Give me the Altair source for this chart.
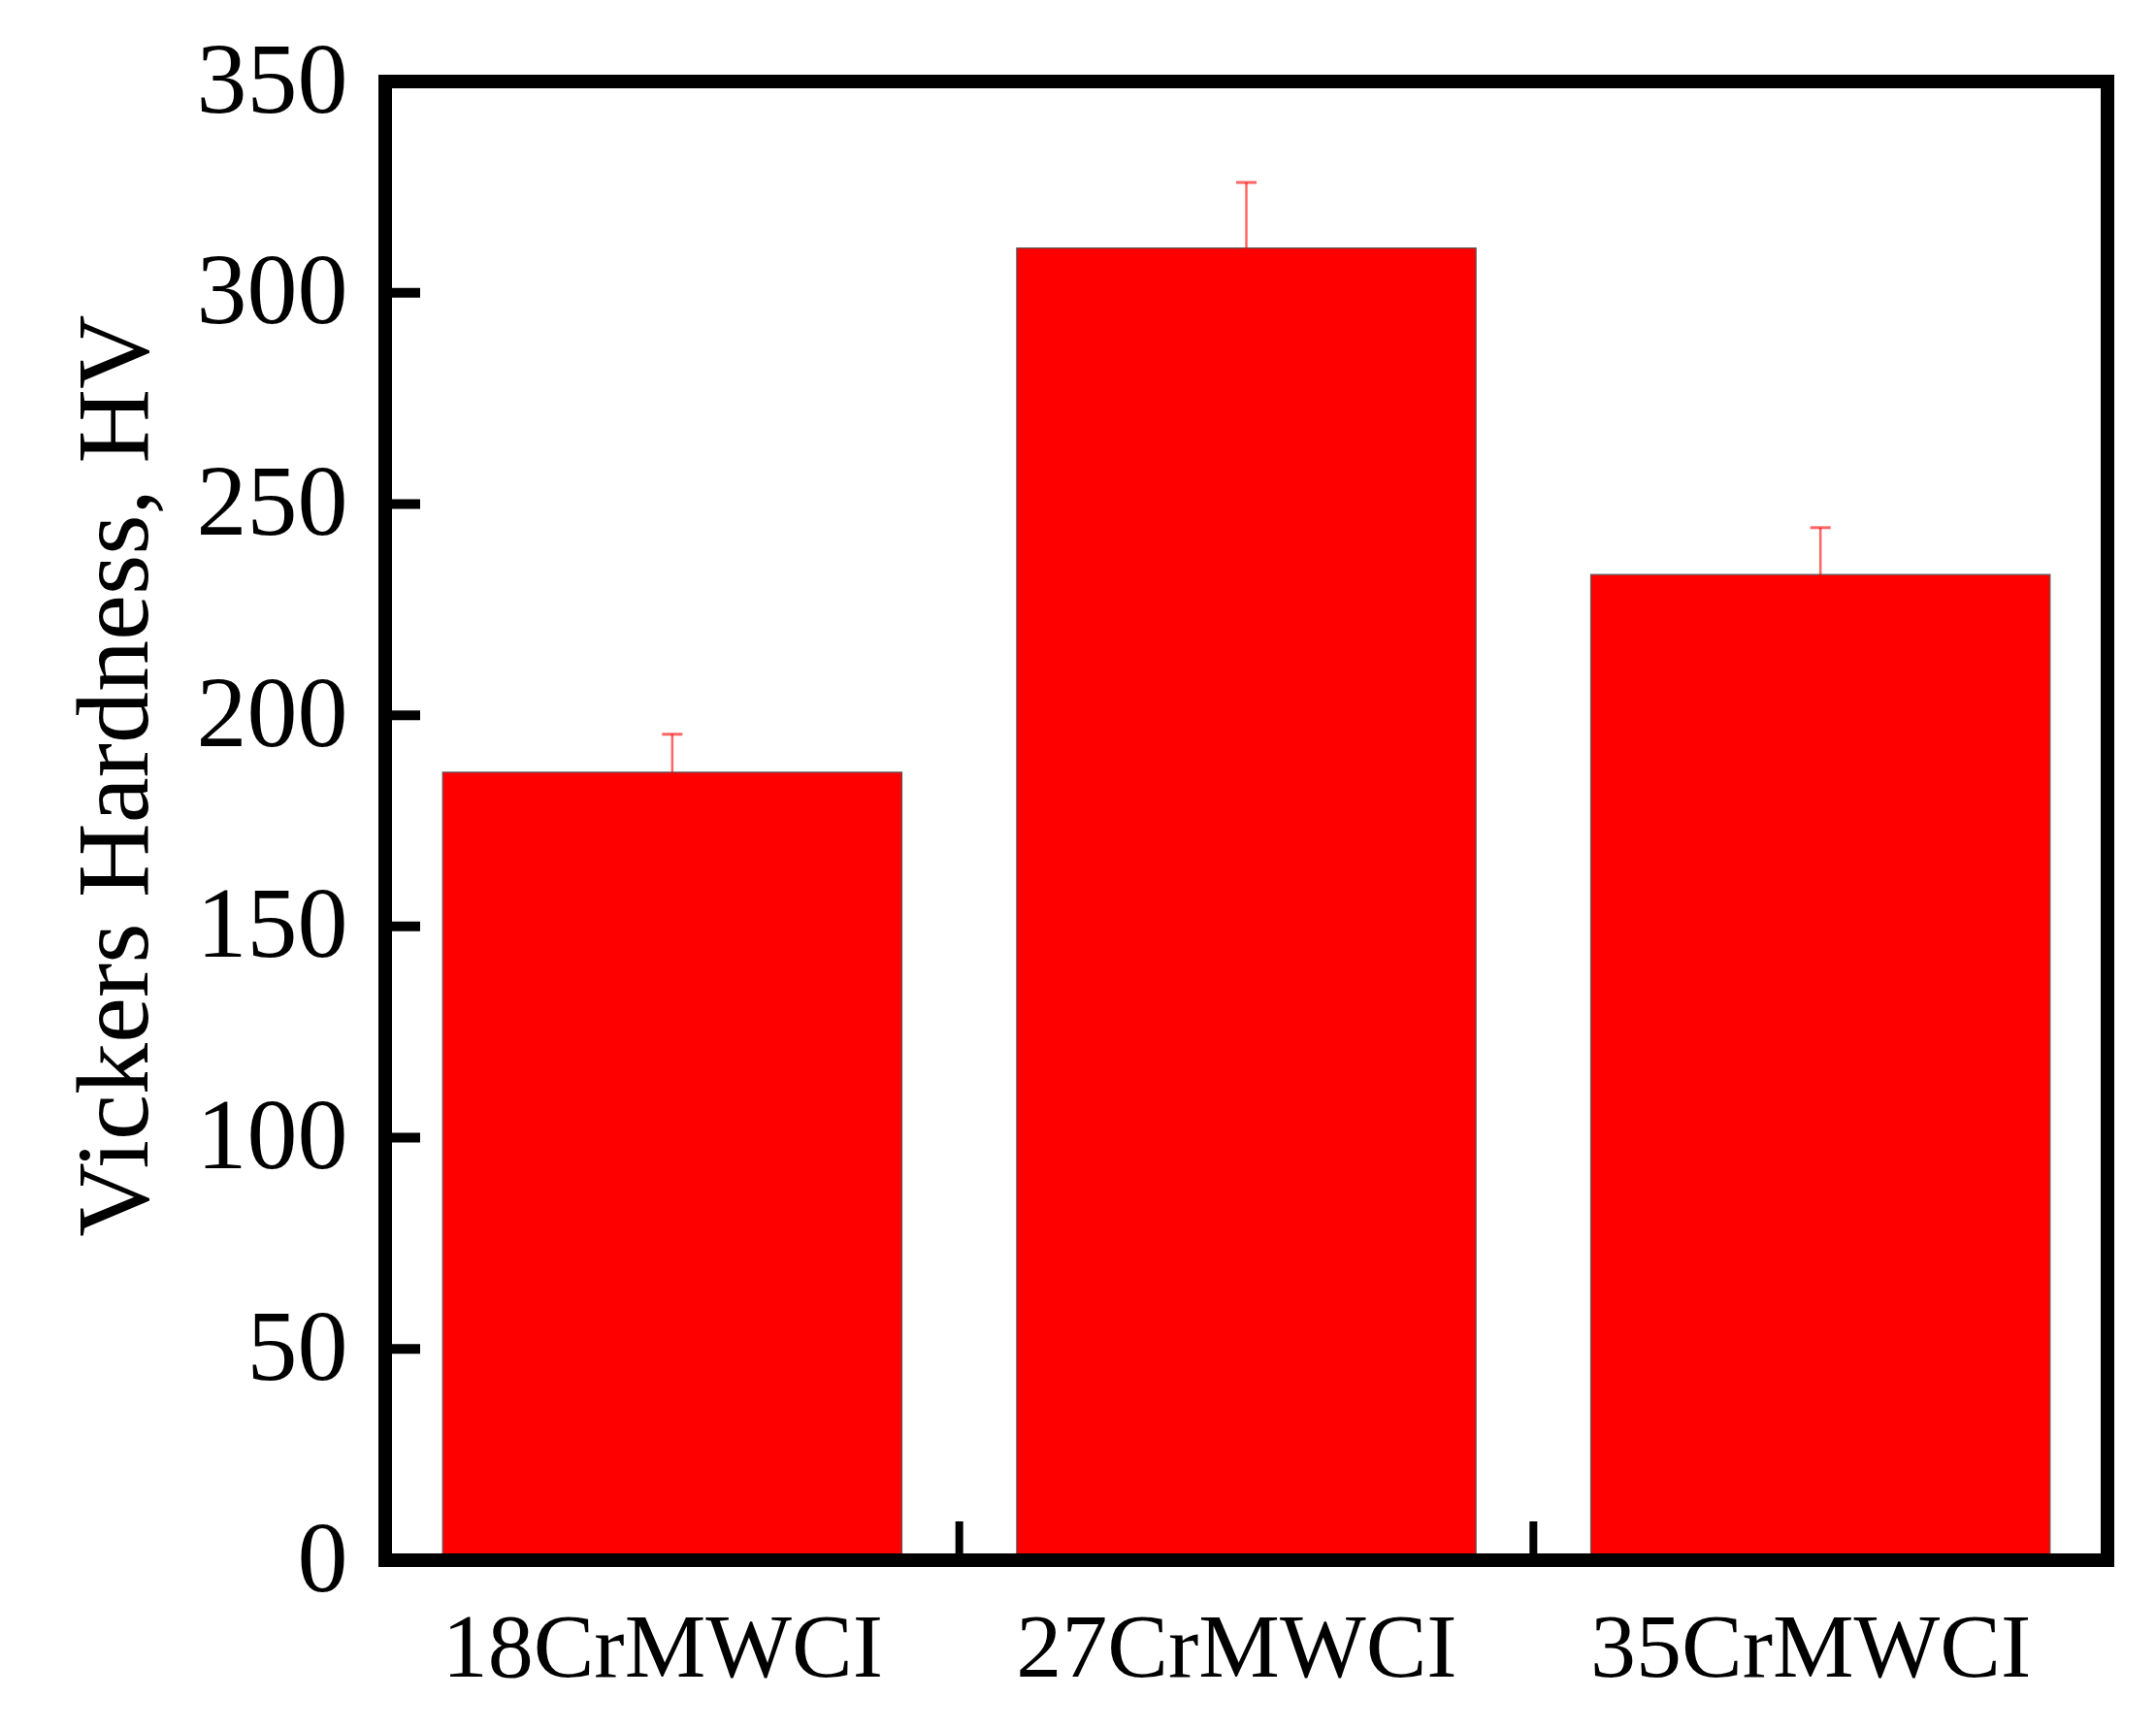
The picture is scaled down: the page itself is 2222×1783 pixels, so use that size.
import altair as alt
import pandas as pd

# ---- data ----
categories = ["18CrMWCI", "27CrMWCI", "35CrMWCI"]
hardness = [186.5, 310.6, 233.3]
errors = [9.0, 15.5, 11.1]
y_tick_values = [0, 50, 100, 150, 200, 250, 300, 350]
inner_y_ticks = [50, 100, 150, 200, 250, 300]
band_boundaries = ["27CrMWCI", "35CrMWCI"]

W, H = 1775, 1524
FONT = "Liberation Serif, Times New Roman, serif"

df = pd.DataFrame({
    "cat": categories,
    "hv": hardness,
    "lo": [v - e for v, e in zip(hardness, errors)],
    "hi": [v + e for v, e in zip(hardness, errors)],
})
yt = pd.DataFrame({"v": inner_y_ticks})
xt = pd.DataFrame({"cat": band_boundaries})

xscale = alt.Scale(domain=categories, paddingInner=0, paddingOuter=0)
yscale = alt.Scale(domain=[0, 350], nice=False, zero=True)

x_enc = alt.X(
    "cat:N", scale=xscale, sort=categories, title=None,
    axis=alt.Axis(
        ticks=False, tickSize=0, domain=False, grid=False, labelAngle=0,
        labelFont=FONT, labelFontSize=94, labelColor="black", labelLimit=0,
        labelBaseline="alphabetic", labelPadding=119, labelOffset=-10,
    ),
)
y_enc = alt.Y(
    "hv:Q", scale=yscale,
    axis=alt.Axis(
        values=y_tick_values, ticks=False, tickSize=0, domain=False, grid=False,
        labelFont=FONT, labelFontSize=104, labelColor="black", labelLimit=0,
        labelPadding=39, labelBaseline="middle",
        title="Vickers Hardness, HV", titleFont=FONT, titleFontSize=106,
        titleFontWeight="normal", titleColor="black", titleLimit=0,
        titleX=-246, titleY=715, titleBaseline="alphabetic", titleAlign="center",
        titleAngle=270,
    ),
)

bars = alt.Chart(df).mark_bar(
    width=alt.RelativeBandSize(0.8), color="#fe0000", stroke="#5a5a5a", strokeWidth=1.2
).encode(x=x_enc, y=y_enc)

err_rule = alt.Chart(df).mark_rule(color="#ff0000", opacity=0.6, strokeWidth=2.5).encode(
    x=alt.X("cat:N", scale=xscale, sort=categories),
    y=alt.Y("lo:Q", scale=yscale),
    y2="hi:Q",
)
err_cap = alt.Chart(df).mark_tick(
    color="#ff0000", opacity=0.6, orient="horizontal", size=21, thickness=3
).encode(
    x=alt.X("cat:N", scale=xscale, sort=categories),
    y=alt.Y("hi:Q", scale=yscale),
)

ytick_marks = alt.Chart(yt).mark_rule(color="black", strokeWidth=10).encode(
    y=alt.Y("v:Q", scale=yscale),
    x=alt.value(0),
    x2=alt.value(36),
)
xtick_marks = alt.Chart(xt).mark_rule(color="black", strokeWidth=8).encode(
    x=alt.X("cat:N", scale=xscale, sort=categories, bandPosition=0),
    y=alt.value(H - 40),
    y2=alt.value(H),
)

frame = alt.Chart(pd.DataFrame({"a": [0]})).mark_rect(
    fill=None, fillOpacity=0, stroke="black", strokeWidth=14
).encode(
    x=alt.value(0), x2=alt.value(W), y=alt.value(0), y2=alt.value(H),
)

chart = alt.layer(bars, err_rule, err_cap, ytick_marks, xtick_marks, frame).properties(
    width=W, height=H,
    autosize=alt.AutoSizeParams(type="none"),
    padding={"left": 389, "top": 76, "right": 40, "bottom": 160},
    background="white",
).configure_view(stroke=None)

chart.save("out.html", embed_options={"renderer": "svg", "actions": False})
